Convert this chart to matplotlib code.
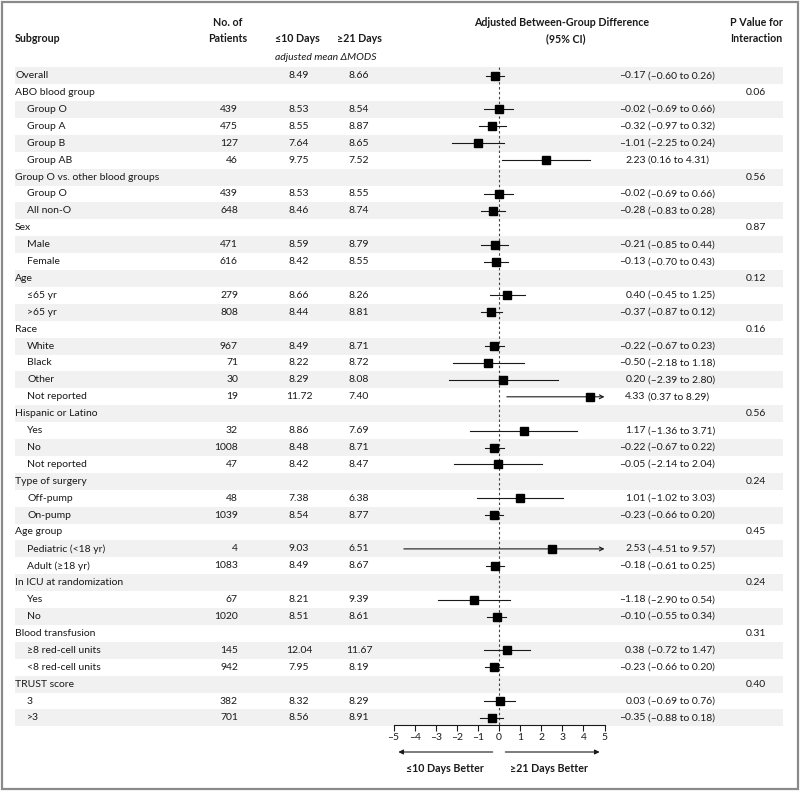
import matplotlib
matplotlib.use("Agg")
import matplotlib.pyplot as plt
from matplotlib.patches import Rectangle
from matplotlib.ticker import FuncFormatter

plt.rcParams['font.family'] = ['Lato', 'DejaVu Sans']

# ---- data ----
subgroups = ["Overall", "ABO blood group", "Group O", "Group A", "Group B", "Group AB",
             "Group O vs. other blood groups", "Group O", "All non-O",
             "Sex", "Male", "Female",
             "Age", "≤65 yr", ">65 yr",
             "Race", "White", "Black", "Other", "Not reported",
             "Hispanic or Latino", "Yes", "No", "Not reported",
             "Type of surgery", "Off-pump", "On-pump",
             "Age group", "Pediatric (<18 yr)", "Adult (≥18 yr)",
             "In ICU at randomization", "Yes", "No",
             "Blood transfusion", "≥8 red-cell units", "<8 red-cell units",
             "TRUST score", "3", ">3"]
indented = [0, 0, 1, 1, 1, 1, 0, 1, 1, 0, 1, 1, 0, 1, 1, 0, 1, 1, 1, 1,
            0, 1, 1, 1, 0, 1, 1, 0, 1, 1, 0, 1, 1, 0, 1, 1, 0, 1, 1]
patients = [None, None, 439, 475, 127, 46, None, 439, 648, None, 471, 616,
            None, 279, 808, None, 967, 71, 30, 19, None, 32, 1008, 47,
            None, 48, 1039, None, 4, 1083, None, 67, 1020, None, 145, 942,
            None, 382, 701]
mods_10 = [8.49, None, 8.53, 8.55, 7.64, 9.75, None, 8.53, 8.46, None, 8.59, 8.42,
           None, 8.66, 8.44, None, 8.49, 8.22, 8.29, 11.72, None, 8.86, 8.48, 8.42,
           None, 7.38, 8.54, None, 9.03, 8.49, None, 8.21, 8.51, None, 12.04, 7.95,
           None, 8.32, 8.56]
mods_21 = [8.66, None, 8.54, 8.87, 8.65, 7.52, None, 8.55, 8.74, None, 8.79, 8.55,
           None, 8.26, 8.81, None, 8.71, 8.72, 8.08, 7.40, None, 7.69, 8.71, 8.47,
           None, 6.38, 8.77, None, 6.51, 8.67, None, 9.39, 8.61, None, 11.67, 8.19,
           None, 8.29, 8.91]
diff = [-0.17, None, -0.02, -0.32, -1.01, 2.23, None, -0.02, -0.28, None, -0.21, -0.13,
        None, 0.40, -0.37, None, -0.22, -0.50, 0.20, 4.33, None, 1.17, -0.22, -0.05,
        None, 1.01, -0.23, None, 2.53, -0.18, None, -1.18, -0.10, None, 0.38, -0.23,
        None, 0.03, -0.35]
ci_low = [-0.60, None, -0.69, -0.97, -2.25, 0.16, None, -0.69, -0.83, None, -0.85, -0.70,
          None, -0.45, -0.87, None, -0.67, -2.18, -2.39, 0.37, None, -1.36, -0.67, -2.14,
          None, -1.02, -0.66, None, -4.51, -0.61, None, -2.90, -0.55, None, -0.72, -0.66,
          None, -0.69, -0.88]
ci_high = [0.26, None, 0.66, 0.32, 0.24, 4.31, None, 0.66, 0.28, None, 0.44, 0.43,
           None, 1.25, 0.12, None, 0.23, 1.18, 2.80, 8.29, None, 3.71, 0.22, 2.04,
           None, 3.03, 0.20, None, 9.57, 0.25, None, 0.54, 0.34, None, 1.47, 0.20,
           None, 0.76, 0.18]
p_interaction = [None, "0.06", None, None, None, None, "0.56", None, None, "0.87", None, None,
                 "0.12", None, None, "0.16", None, None, None, None, "0.56", None, None, None,
                 "0.24", None, None, "0.45", None, None, "0.24", None, None, "0.31", None, None,
                 "0.40", None, None]
x_ticks = [-5, -4, -3, -2, -1, 0, 1, 2, 3, 4, 5]
x_min, x_max = -5, 5

# ---- layout (pixels) ----
W, H = 800, 794
ROW0, DY = 75.7, 16.9
FS = 7.5
INK = '#1a1a1a'


def row_y(i):
    return ROW0 + i * DY


def fmt(v):
    return f"{v:.2f}".replace('-', '–')


fig = plt.figure(figsize=(W / 100, H / 100), dpi=100)
tab = fig.add_axes([0, 0, 1, 1])
tab.set_xlim(0, W)
tab.set_ylim(H, 0)
tab.axis('off')

# outer frame
tab.add_patch(Rectangle((2, 1.5), W - 4, 787, fill=False, ec='#8a8a8a', lw=1.6))

# striped rows
for i in range(len(subgroups)):
    if i % 2 == 0:
        tab.add_patch(Rectangle((15, row_y(i) - DY / 2), 768, DY, fc='#f1f1f1', ec='none', zorder=0))

# header
hd = dict(fontsize=FS + 0.2, fontweight='bold', color=INK, va='center')
tab.text(15, 39, "Subgroup", ha='left', **hd)
tab.text(228, 23, "No. of", ha='center', **hd)
tab.text(228, 39, "Patients", ha='center', **hd)
tab.text(297, 39, "≤10 Days", ha='center', **hd)
tab.text(359, 39, "≥21 Days", ha='center', **hd)
tab.text(326, 57, "adjusted mean ΔMODS", ha='center', va='center', fontsize=FS,
         style='italic', color=INK)
tab.text(562, 23, "Adjusted Between-Group Difference", ha='center', **hd)
tab.text(566, 39, "(95% CI)", ha='center', **hd)
tab.text(756, 23, "P Value for", ha='center', **hd)
tab.text(756, 39, "Interaction", ha='center', **hd)

# table body
body = dict(fontsize=FS, color=INK, va='center')
for i, name in enumerate(subgroups):
    y = row_y(i)
    tab.text(27 if indented[i] else 15, y, name, ha='left', **body)
    if patients[i] is not None:
        tab.text(238, y, str(patients[i]), ha='right', **body)
    if mods_10[i] is not None:
        tab.text(299, y, f"{mods_10[i]:.2f}", ha='center', **body)
    if mods_21[i] is not None:
        tab.text(359, y, f"{mods_21[i]:.2f}", ha='center', **body)
    if diff[i] is not None:
        tab.text(645.5, y, fmt(diff[i]), ha='right', **body)
        tab.text(648.5, y, f"({fmt(ci_low[i])} to {fmt(ci_high[i])})", ha='left', **body)
    if p_interaction[i] is not None:
        tab.text(756, y, p_interaction[i], ha='center', **body)

# ---- forest plot ----
ax_l, ax_r = 393.5, 604.5
ax_top, ax_bot = 60, 725
ax = fig.add_axes([ax_l / W, (H - ax_bot) / H, (ax_r - ax_l) / W, (ax_bot - ax_top) / H])
ax.patch.set_visible(False)
ax.set_xlim(x_min, x_max)
ax.set_ylim((ax_bot - ROW0) / DY, (ax_top - ROW0) / DY)
for s in ['top', 'left', 'right']:
    ax.spines[s].set_visible(False)
ax.spines['bottom'].set_linewidth(0.8)
ax.spines['bottom'].set_color(INK)
ax.set_yticks([])
ax.set_xticks(x_ticks)
ax.xaxis.set_major_formatter(FuncFormatter(lambda v, p: f"{v:g}".replace('-', '–')))
ax.tick_params(axis='x', direction='out', length=4, width=0.8, pad=1.5,
               labelsize=FS, colors=INK)

ax.plot([0, 0], [-0.5, ax.get_ylim()[0]], ls=(0, (2.2, 2.2)), color='#444444', lw=0.8,
        clip_on=False, zorder=1)

for i in range(len(subgroups)):
    if diff[i] is None:
        continue
    lo = max(ci_low[i], x_min)
    hi = min(ci_high[i], x_max)
    if ci_high[i] > x_max:
        ax.annotate('', xy=(hi, i), xytext=(lo, i),
                    arrowprops=dict(arrowstyle='->', lw=0.8, color=INK,
                                    mutation_scale=7, shrinkA=0, shrinkB=0))
    else:
        ax.plot([lo, hi], [i, i], color=INK, lw=0.8, zorder=2)
    ax.plot(diff[i], i, marker='s', ms=5.4, color='black', zorder=3)

# direction arrows and captions below the axis
arr_y = H - 752
ax.annotate('', xy=(-4.77, arr_y), xytext=(-0.3, arr_y), xycoords=('data', 'figure pixels'),
            textcoords=('data', 'figure pixels'),
            arrowprops=dict(arrowstyle='-|>', lw=0.8, color=INK, mutation_scale=7,
                            shrinkA=0, shrinkB=0))
ax.annotate('', xy=(4.77, arr_y), xytext=(0.3, arr_y), xycoords=('data', 'figure pixels'),
            textcoords=('data', 'figure pixels'),
            arrowprops=dict(arrowstyle='-|>', lw=0.8, color=INK, mutation_scale=7,
                            shrinkA=0, shrinkB=0))
ax.annotate("≤10 Days Better", xy=(-2.54, H - 769), xycoords=('data', 'figure pixels'),
            ha='center', va='center', fontsize=FS + 0.2, fontweight='bold', color=INK)
ax.annotate("≥21 Days Better", xy=(2.37, H - 769), xycoords=('data', 'figure pixels'),
            ha='center', va='center', fontsize=FS + 0.2, fontweight='bold', color=INK)

fig.savefig("out.png", dpi=100)
